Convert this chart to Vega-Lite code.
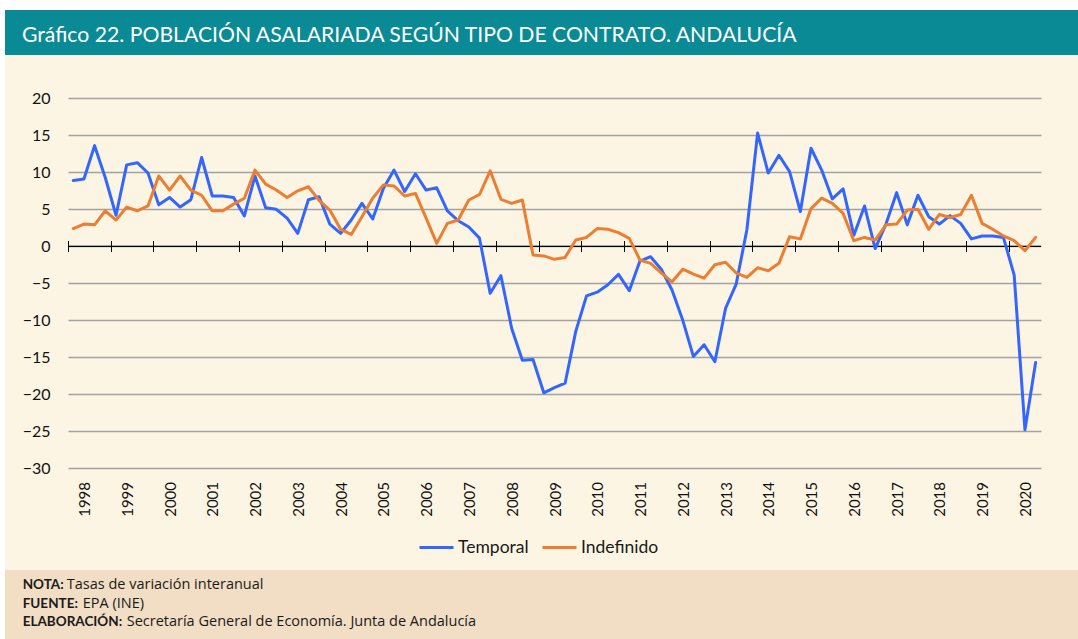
{
  "$schema": "https://vega.github.io/schema/vega-lite/v6.json",
  "padding": {"left": 5, "top": 10, "right": 0, "bottom": 0},
  "background": "white",
  "spacing": 0,
  "config": {"view": {"stroke": null}, "font": "Lato"},
  "vconcat": [
    {
      "width": 1073,
      "height": 45,
      "view": {"fill": "#0a8a95", "stroke": null},
      "title": {
        "text": "Gráfico 22. POBLACIÓN ASALARIADA SEGÚN TIPO DE CONTRATO. ANDALUCÍA",
        "anchor": "start",
        "frame": "group",
        "orient": "top",
        "offset": -53,
        "dx": 17,
        "baseline": "alphabetic",
        "color": "white",
        "font": "Lato",
        "fontSize": 21.2,
        "fontWeight": "normal"
      },
      "data": {"values": [{}]},
      "mark": {"type": "text", "text": ""},
      "encoding": {}
    },
    {
      "width": 1073,
      "height": 515,
      "view": {"fill": "#fdf5e3", "stroke": null},
      "resolve": {"axis": {"x": "independent", "y": "independent"}},
      "layer": [
        {
          "data": {"values": [{}]},
          "mark": {"type": "rule", "color": "#000000", "strokeWidth": 1.3},
          "encoding": {
            "x": {
              "datum": {"year": 1998, "month": 1, "date": 1, "utc": true},
              "type": "temporal",
              "axis": {
                "orient": "bottom",
                "offset": -329.5,
                "domain": false,
                "labels": false,
                "grid": false,
                "ticks": true,
                "tickSize": 11,
                "tickColor": "#000000",
                "tickWidth": 1,
                "title": null,
                "values": [
                  {"year": 1998, "month": 1, "date": 1, "utc": true},
                  {"year": 1999, "month": 1, "date": 1, "utc": true},
                  {"year": 2000, "month": 1, "date": 1, "utc": true},
                  {"year": 2001, "month": 1, "date": 1, "utc": true},
                  {"year": 2002, "month": 1, "date": 1, "utc": true},
                  {"year": 2003, "month": 1, "date": 1, "utc": true},
                  {"year": 2004, "month": 1, "date": 1, "utc": true},
                  {"year": 2005, "month": 1, "date": 1, "utc": true},
                  {"year": 2006, "month": 1, "date": 1, "utc": true},
                  {"year": 2007, "month": 1, "date": 1, "utc": true},
                  {"year": 2008, "month": 1, "date": 1, "utc": true},
                  {"year": 2009, "month": 1, "date": 1, "utc": true},
                  {"year": 2010, "month": 1, "date": 1, "utc": true},
                  {"year": 2011, "month": 1, "date": 1, "utc": true},
                  {"year": 2012, "month": 1, "date": 1, "utc": true},
                  {"year": 2013, "month": 1, "date": 1, "utc": true},
                  {"year": 2014, "month": 1, "date": 1, "utc": true},
                  {"year": 2015, "month": 1, "date": 1, "utc": true},
                  {"year": 2016, "month": 1, "date": 1, "utc": true},
                  {"year": 2017, "month": 1, "date": 1, "utc": true},
                  {"year": 2018, "month": 1, "date": 1, "utc": true},
                  {"year": 2019, "month": 1, "date": 1, "utc": true},
                  {"year": 2020, "month": 1, "date": 1, "utc": true}
                ]
              }
            },
            "x2": {"datum": {"year": 2020, "month": 10, "date": 1, "utc": true}},
            "y": {"datum": 0, "type": "quantitative", "axis": null}
          }
        },
        {
          "data": {
            "values": [
              {"trimestre": "1998-02-15", "Temporal": 8.9, "Indefinido": 2.4},
              {"trimestre": "1998-05-17", "Temporal": 9.1, "Indefinido": 3.0},
              {"trimestre": "1998-08-16", "Temporal": 13.6, "Indefinido": 2.9},
              {"trimestre": "1998-11-15", "Temporal": 9.3, "Indefinido": 4.8},
              {"trimestre": "1999-02-15", "Temporal": 4.2, "Indefinido": 3.55},
              {"trimestre": "1999-05-17", "Temporal": 11.0, "Indefinido": 5.3},
              {"trimestre": "1999-08-16", "Temporal": 11.3, "Indefinido": 4.8},
              {"trimestre": "1999-11-15", "Temporal": 9.9, "Indefinido": 5.45},
              {"trimestre": "2000-02-15", "Temporal": 5.6, "Indefinido": 9.5},
              {"trimestre": "2000-05-17", "Temporal": 6.6, "Indefinido": 7.6},
              {"trimestre": "2000-08-16", "Temporal": 5.3, "Indefinido": 9.5},
              {"trimestre": "2000-11-15", "Temporal": 6.3, "Indefinido": 7.6},
              {"trimestre": "2001-02-15", "Temporal": 12.0, "Indefinido": 6.9},
              {"trimestre": "2001-05-17", "Temporal": 6.8, "Indefinido": 4.8},
              {"trimestre": "2001-08-16", "Temporal": 6.8, "Indefinido": 4.8},
              {"trimestre": "2001-11-15", "Temporal": 6.6, "Indefinido": 5.7},
              {"trimestre": "2002-02-15", "Temporal": 4.1, "Indefinido": 6.5},
              {"trimestre": "2002-05-17", "Temporal": 9.5, "Indefinido": 10.3},
              {"trimestre": "2002-08-16", "Temporal": 5.2, "Indefinido": 8.4},
              {"trimestre": "2002-11-15", "Temporal": 5.0, "Indefinido": 7.6},
              {"trimestre": "2003-02-15", "Temporal": 3.8, "Indefinido": 6.6},
              {"trimestre": "2003-05-17", "Temporal": 1.75, "Indefinido": 7.5},
              {"trimestre": "2003-08-16", "Temporal": 6.3, "Indefinido": 8.05},
              {"trimestre": "2003-11-15", "Temporal": 6.7, "Indefinido": 6.2},
              {"trimestre": "2004-02-15", "Temporal": 3.0, "Indefinido": 4.9},
              {"trimestre": "2004-05-17", "Temporal": 1.75, "Indefinido": 2.3},
              {"trimestre": "2004-08-16", "Temporal": 3.55, "Indefinido": 1.6},
              {"trimestre": "2004-11-15", "Temporal": 5.8, "Indefinido": 4.0},
              {"trimestre": "2005-02-15", "Temporal": 3.7, "Indefinido": 6.5},
              {"trimestre": "2005-05-17", "Temporal": 7.8, "Indefinido": 8.3},
              {"trimestre": "2005-08-16", "Temporal": 10.3, "Indefinido": 8.15},
              {"trimestre": "2005-11-15", "Temporal": 7.4, "Indefinido": 6.8},
              {"trimestre": "2006-02-15", "Temporal": 9.8, "Indefinido": 7.15},
              {"trimestre": "2006-05-17", "Temporal": 7.6, "Indefinido": 3.8},
              {"trimestre": "2006-08-16", "Temporal": 7.9, "Indefinido": 0.4},
              {"trimestre": "2006-11-15", "Temporal": 4.8, "Indefinido": 3.1},
              {"trimestre": "2007-02-15", "Temporal": 3.45, "Indefinido": 3.55},
              {"trimestre": "2007-05-17", "Temporal": 2.6, "Indefinido": 6.26},
              {"trimestre": "2007-08-16", "Temporal": 1.1, "Indefinido": 7.0},
              {"trimestre": "2007-11-15", "Temporal": -6.35, "Indefinido": 10.2},
              {"trimestre": "2008-02-15", "Temporal": -3.97, "Indefinido": 6.35},
              {"trimestre": "2008-05-17", "Temporal": -11.1, "Indefinido": 5.8},
              {"trimestre": "2008-08-16", "Temporal": -15.4, "Indefinido": 6.26},
              {"trimestre": "2008-11-15", "Temporal": -15.3, "Indefinido": -1.18},
              {"trimestre": "2009-02-15", "Temporal": -19.8, "Indefinido": -1.3},
              {"trimestre": "2009-05-17", "Temporal": -19.1, "Indefinido": -1.76},
              {"trimestre": "2009-08-16", "Temporal": -18.5, "Indefinido": -1.5},
              {"trimestre": "2009-11-15", "Temporal": -11.5, "Indefinido": 0.85},
              {"trimestre": "2010-02-15", "Temporal": -6.7, "Indefinido": 1.2},
              {"trimestre": "2010-05-17", "Temporal": -6.2, "Indefinido": 2.4},
              {"trimestre": "2010-08-16", "Temporal": -5.2, "Indefinido": 2.3},
              {"trimestre": "2010-11-15", "Temporal": -3.8, "Indefinido": 1.85},
              {"trimestre": "2011-02-15", "Temporal": -6.0, "Indefinido": 1.07},
              {"trimestre": "2011-05-17", "Temporal": -2.0, "Indefinido": -1.85},
              {"trimestre": "2011-08-16", "Temporal": -1.4, "Indefinido": -2.3},
              {"trimestre": "2011-11-15", "Temporal": -3.1, "Indefinido": -3.6},
              {"trimestre": "2012-02-15", "Temporal": -5.9, "Indefinido": -4.8},
              {"trimestre": "2012-05-17", "Temporal": -10.0, "Indefinido": -3.1},
              {"trimestre": "2012-08-16", "Temporal": -14.9, "Indefinido": -3.75},
              {"trimestre": "2012-11-15", "Temporal": -13.3, "Indefinido": -4.3},
              {"trimestre": "2013-02-15", "Temporal": -15.6, "Indefinido": -2.5},
              {"trimestre": "2013-05-17", "Temporal": -8.4, "Indefinido": -2.15},
              {"trimestre": "2013-08-16", "Temporal": -5.1, "Indefinido": -3.6},
              {"trimestre": "2013-11-15", "Temporal": 2.2, "Indefinido": -4.2},
              {"trimestre": "2014-02-15", "Temporal": 15.3, "Indefinido": -2.9},
              {"trimestre": "2014-05-17", "Temporal": 9.9, "Indefinido": -3.3},
              {"trimestre": "2014-08-16", "Temporal": 12.3, "Indefinido": -2.3},
              {"trimestre": "2014-11-15", "Temporal": 10.1, "Indefinido": 1.3},
              {"trimestre": "2015-02-15", "Temporal": 4.7, "Indefinido": 1.0},
              {"trimestre": "2015-05-17", "Temporal": 13.25, "Indefinido": 5.1},
              {"trimestre": "2015-08-16", "Temporal": 10.3, "Indefinido": 6.5},
              {"trimestre": "2015-11-15", "Temporal": 6.4, "Indefinido": 5.8},
              {"trimestre": "2016-02-15", "Temporal": 7.75, "Indefinido": 4.45},
              {"trimestre": "2016-05-17", "Temporal": 1.5, "Indefinido": 0.76},
              {"trimestre": "2016-08-16", "Temporal": 5.45, "Indefinido": 1.2},
              {"trimestre": "2016-11-15", "Temporal": -0.3, "Indefinido": 0.85},
              {"trimestre": "2017-02-15", "Temporal": 3.0, "Indefinido": 2.9},
              {"trimestre": "2017-05-17", "Temporal": 7.25, "Indefinido": 3.0},
              {"trimestre": "2017-08-16", "Temporal": 2.9, "Indefinido": 4.9},
              {"trimestre": "2017-11-15", "Temporal": 6.9, "Indefinido": 5.0},
              {"trimestre": "2018-02-15", "Temporal": 4.0, "Indefinido": 2.3},
              {"trimestre": "2018-05-17", "Temporal": 3.0, "Indefinido": 4.3},
              {"trimestre": "2018-08-16", "Temporal": 4.15, "Indefinido": 3.9},
              {"trimestre": "2018-11-15", "Temporal": 3.1, "Indefinido": 4.3},
              {"trimestre": "2019-02-15", "Temporal": 1.0, "Indefinido": 6.9},
              {"trimestre": "2019-05-17", "Temporal": 1.4, "Indefinido": 3.1},
              {"trimestre": "2019-08-16", "Temporal": 1.4, "Indefinido": 2.3},
              {"trimestre": "2019-11-15", "Temporal": 1.2, "Indefinido": 1.4},
              {"trimestre": "2020-02-15", "Temporal": -3.9, "Indefinido": 0.76},
              {"trimestre": "2020-05-17", "Temporal": -24.8, "Indefinido": -0.6},
              {"trimestre": "2020-08-16", "Temporal": -15.7, "Indefinido": 1.2}
            ]
          },
          "transform": [{"fold": ["Temporal", "Indefinido"], "as": ["serie", "valor"]}],
          "mark": {"type": "line", "strokeWidth": 3, "strokeJoin": "round", "strokeCap": "round"},
          "encoding": {
            "x": {
              "field": "trimestre",
              "type": "temporal",
              "scale": {
                "type": "utc",
                "domain": [
                  {"year": 1998, "month": 1, "date": 1, "utc": true},
                  {"year": 2020, "month": 10, "date": 1, "utc": true}
                ],
                "range": [63, 1036],
                "nice": false
              },
              "axis": {
                "orient": "bottom",
                "offset": -88.5,
                "domain": false,
                "ticks": false,
                "tickSize": 0,
                "grid": false,
                "labelPadding": 0,
                "labelAngle": -90,
                "labelAlign": "right",
                "labelBaseline": "middle",
                "labelFont": "Lato",
                "labelFontSize": 15,
                "labelColor": "#111111",
                "labelFlush": false,
                "labelOverlap": false,
                "format": "%Y",
                "title": null,
                "values": [
                  {"year": 1998, "month": 5, "date": 22, "utc": true},
                  {"year": 1999, "month": 5, "date": 22, "utc": true},
                  {"year": 2000, "month": 5, "date": 22, "utc": true},
                  {"year": 2001, "month": 5, "date": 22, "utc": true},
                  {"year": 2002, "month": 5, "date": 22, "utc": true},
                  {"year": 2003, "month": 5, "date": 22, "utc": true},
                  {"year": 2004, "month": 5, "date": 22, "utc": true},
                  {"year": 2005, "month": 5, "date": 22, "utc": true},
                  {"year": 2006, "month": 5, "date": 22, "utc": true},
                  {"year": 2007, "month": 5, "date": 22, "utc": true},
                  {"year": 2008, "month": 5, "date": 22, "utc": true},
                  {"year": 2009, "month": 5, "date": 22, "utc": true},
                  {"year": 2010, "month": 5, "date": 22, "utc": true},
                  {"year": 2011, "month": 5, "date": 22, "utc": true},
                  {"year": 2012, "month": 5, "date": 22, "utc": true},
                  {"year": 2013, "month": 5, "date": 22, "utc": true},
                  {"year": 2014, "month": 5, "date": 22, "utc": true},
                  {"year": 2015, "month": 5, "date": 22, "utc": true},
                  {"year": 2016, "month": 5, "date": 22, "utc": true},
                  {"year": 2017, "month": 5, "date": 22, "utc": true},
                  {"year": 2018, "month": 5, "date": 22, "utc": true},
                  {"year": 2019, "month": 5, "date": 22, "utc": true},
                  {"year": 2020, "month": 5, "date": 22, "utc": true}
                ]
              }
            },
            "y": {
              "field": "valor",
              "type": "quantitative",
              "scale": {"domain": [-30, 20], "range": [413.3, 43.3], "nice": false, "zero": false},
              "axis": {
                "orient": "left",
                "offset": -45,
                "values": [-30, -25, -20, -15, -10, -5, 0, 5, 10, 15, 20],
                "domain": false,
                "ticks": false,
                "tickSize": 0,
                "labelPadding": 0,
                "labelFont": "Lato",
                "labelFontSize": 16,
                "labelColor": "#111111",
                "labelFlush": false,
                "grid": true,
                "gridColor": "#a2a2a2",
                "gridWidth": 1.3,
                "title": null
              }
            },
            "color": {
              "field": "serie",
              "type": "nominal",
              "scale": {"domain": ["Temporal", "Indefinido"], "range": ["#3366ff", "#ed7d31"]},
              "legend": {
                "orient": "none",
                "legendX": 413,
                "legendY": 519,
                "direction": "horizontal",
                "title": null,
                "padding": 0,
                "symbolType": "stroke",
                "symbolSize": 1156,
                "symbolStrokeWidth": 3,
                "labelFont": "Lato",
                "labelFontSize": 17.5,
                "labelColor": "#1a1a1a",
                "labelOffset": 3,
                "columnPadding": 7
              }
            }
          }
        }
      ]
    },
    {
      "width": 1073,
      "height": 69,
      "view": {"fill": "#f1dec4", "stroke": null},
      "data": {
        "values": [
          {"linea": 1, "etiqueta": "NOTA:", "texto": "Tasas de variación interanual"},
          {"linea": 2, "etiqueta": "FUENTE:", "texto": "EPA (INE)"},
          {"linea": 3, "etiqueta": "ELABORACIÓN:", "texto": "Secretaría General de Economía. Junta de Andalucía"}
        ]
      },
      "encoding": {
        "y": {
          "field": "linea",
          "type": "ordinal",
          "scale": {"type": "point", "domain": [1, 2, 3], "range": [19, 56], "padding": 0},
          "axis": null
        }
      },
      "layer": [
        {
          "mark": {"type": "text", "align": "left", "baseline": "alphabetic", "font": "Lato", "fontSize": 13.5, "fontWeight": "bold", "color": "#1a1a1a", "x": 17.7},
          "encoding": {"text": {"field": "etiqueta"}}
        },
        {
          "mark": {"type": "text", "align": "left", "baseline": "alphabetic", "font": "Open Sans", "fontSize": 14.5, "color": "#1a1a1a", "x": {"expr": "datum.linea == 1 ? 61.7 : datum.linea == 2 ? 77.7 : 121.7"}},
          "encoding": {"text": {"field": "texto"}}
        }
      ]
    }
  ]
}
